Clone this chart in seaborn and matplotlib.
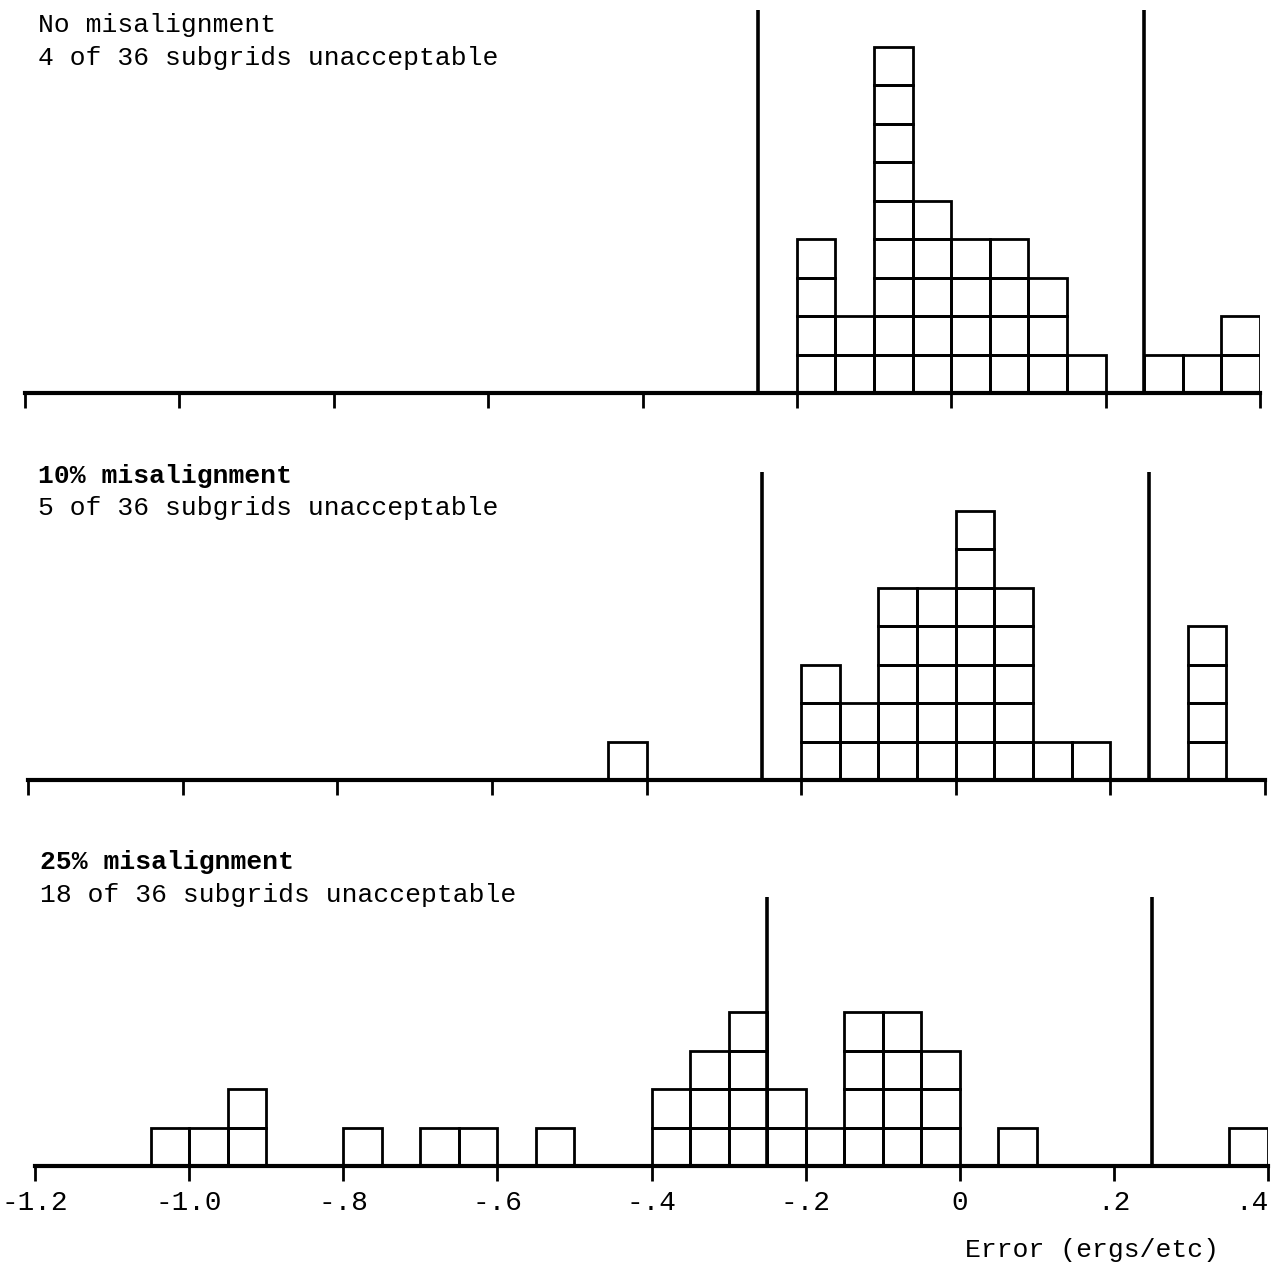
import numpy as np
import pandas as pd
import matplotlib
matplotlib.use("Agg")
import matplotlib.pyplot as plt
import seaborn as sns

# ----------------------------------------------------------------------------
# DATA: left edge of each 0.05-wide error bin and the number of subgrids in it
# ----------------------------------------------------------------------------
bins_none = [-0.20, -0.15, -0.10, -0.05, 0.00, 0.05, 0.10, 0.15, 0.25, 0.30, 0.35]
counts_none = [4, 2, 9, 5, 4, 4, 3, 1, 1, 1, 2]

bins_10 = [-0.45, -0.20, -0.15, -0.10, -0.05, 0.00, 0.05, 0.10, 0.15, 0.30]
counts_10 = [1, 3, 2, 5, 5, 7, 5, 1, 1, 4]

bins_25 = [-1.05, -1.00, -0.95, -0.80, -0.70, -0.65, -0.55,
           -0.40, -0.35, -0.30, -0.25, -0.20, -0.15, -0.10, -0.05, 0.05, 0.35]
counts_25 = [1, 1, 2, 1, 1, 1, 1, 2, 3, 4, 2, 1, 4, 4, 3, 1, 1]

titles = [("No misalignment", "4 of 36 subgrids unacceptable"),
          ("10% misalignment", "5 of 36 subgrids unacceptable"),
          ("25% misalignment", "18 of 36 subgrids unacceptable")]

limits = [-0.25, 0.25]          # acceptance band
limit_heights = [9.95, 8.0, 7.0]  # how tall the band lines are drawn, in squares

tick_vals = [-1.2, -1.0, -0.8, -0.6, -0.4, -0.2, 0.0, 0.2, 0.4]
tick_labels = ["-1.2", "-1.0", "-.8", "-.6", "-.4", "-.2", "0", ".2", ".4"]
x_label = "Error (ergs/etc)"
binw = 0.05

# ----------------------------------------------------------------------------
# PLOT
# ----------------------------------------------------------------------------
sns.set_style("white")
plt.rcParams["font.family"] = ["Liberation Mono", "DejaVu Sans Mono"]
plt.rcParams["text.color"] = "black"
plt.rcParams["xtick.color"] = "black"
plt.rcParams["xtick.labelcolor"] = "black"

W, H = 1285, 1265
fig = plt.figure(figsize=(W / 100, H / 100), dpi=100)

unit_px = 38.5
# (left px, right px, baseline px, top px) of each panel
panels = [(25, 1260, 393, 0), (28, 1265, 780, 468), (35, 1268, 1166, 890)]
series = [(bins_none, counts_none), (bins_10, counts_10), (bins_25, counts_25)]
title_pos = [(38, 25, 58), (38, 476, 508), (40, 862, 895)]
title_weight = ["normal", "bold", "bold"]

for i, ((l, r, base, top), (bins, counts)) in enumerate(zip(panels, series)):
    ax = fig.add_axes([l / W, (H - base) / H, (r - l) / W, (base - top) / H])

    # one row per subgrid, stacked by its level in the column
    rows = [(b + binw / 2, "L%d" % k) for b, n in zip(bins, counts) for k in range(n)]
    df = pd.DataFrame(rows, columns=["error", "level"])
    levels = sorted(df["level"].unique())
    sns.histplot(data=df, x="error", hue="level", hue_order=levels,
                 multiple="stack", binwidth=binw, binrange=(-1.2, 0.4),
                 element="bars", fill=False, linewidth=2.0,
                 palette={lv: "black" for lv in levels}, legend=False, ax=ax)

    ax.vlines(limits, 0, limit_heights[i], color="black", linewidth=2.6)

    ax.set_xlim(-1.2, 0.4)
    ax.set_ylim(0, (base - top) / unit_px)
    ax.set_xlabel("")
    ax.set_ylabel("")
    ax.set_yticks([])
    sns.despine(ax=ax, left=True, top=True, right=True)
    ax.spines["bottom"].set_linewidth(3)
    ax.spines["bottom"].set_color("black")
    ax.set_xticks(tick_vals)
    ax.tick_params(axis="x", bottom=True, direction="out", length=11, width=2,
                   color="black", pad=6, labelsize=20)
    if i < 2:
        ax.set_xticklabels([])
    else:
        ax.set_xticklabels(tick_labels)
        # keep the last label inside the page, as in the original
        ax.get_xticklabels()[-1].set_horizontalalignment("right")
        ax.get_xticklabels()[-1].set_x(0.4)
    ax.patch.set_alpha(0)

    tx, y1, y2 = title_pos[i]
    fig.text(tx / W, 1 - y1 / H, titles[i][0], fontsize=19, va="center", ha="left",
             fontweight=title_weight[i])
    fig.text(tx / W, 1 - y2 / H, titles[i][1], fontsize=19, va="center", ha="left")

fig.text(965 / W, 1 - 1250 / H, x_label, fontsize=19, va="center", ha="left")

fig.savefig("out.png", dpi=100, facecolor="white")
